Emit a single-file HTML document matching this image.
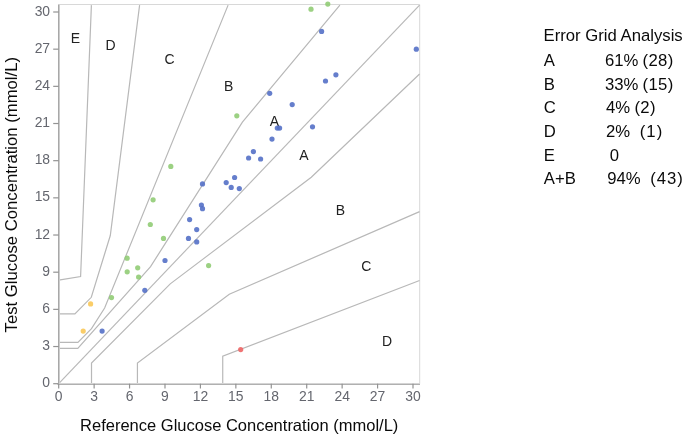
<!DOCTYPE html>
<html><head><meta charset="utf-8"><style>
html,body{margin:0;padding:0;background:#fff;}
body{width:685px;height:436px;overflow:hidden;position:relative;}
svg{display:block;position:absolute;left:0;top:0;}
.ch{will-change:transform;}
text{font-family:"Liberation Sans",sans-serif;}
.tk{font-size:13.9px;fill:#64666e;}
.zl{font-size:14px;fill:#222;}
.at{font-size:16.5px;fill:#0a0a0a;}
.lg{font-size:16.7px;fill:#0a0a0a;}
</style></head><body>
<svg class="ch" width="685" height="436" viewBox="0 0 685 436">
<path d="M58.70,4.5 L419.7,4.5 L419.7,383.70" fill="none" stroke="#d8d8d8" stroke-width="1"/>
<path d="M58.70,280.20 L80.60,276.60 L91.40,5.12" fill="none" stroke="#b8b8b8" stroke-width="1.2"/>
<path d="M58.70,313.80 L74.90,313.80 L91.30,297.30 L110.30,235.50 L139.60,5.12" fill="none" stroke="#b8b8b8" stroke-width="1.2"/>
<path d="M58.70,342.30 L77.90,342.30 L91.51,328.63 L104.63,307.98 L228.10,5.12" fill="none" stroke="#b8b8b8" stroke-width="1.2"/>
<path d="M58.70,348.40 L77.80,348.40 L150.56,266.68 L242.41,122.13 L339.90,5.12" fill="none" stroke="#b8b8b8" stroke-width="1.2"/>
<path d="M58.70,383.70 L419.56,5.12" fill="none" stroke="#b8b8b8" stroke-width="1.2"/>
<path d="M91.51,383.70 L91.51,363.05 L170.24,283.89 L311.30,177.20 L419.56,73.95" fill="none" stroke="#b8b8b8" stroke-width="1.2"/>
<path d="M137.43,383.70 L137.43,363.05 L229.29,294.22 L419.56,211.62" fill="none" stroke="#b8b8b8" stroke-width="1.2"/>
<path d="M222.73,383.70 L222.73,356.17 L419.56,280.45" fill="none" stroke="#b8b8b8" stroke-width="1.2"/>
<rect x="58" y="4.5" width="1" height="380.5" fill="#a8a8a8"/>
<rect x="59" y="4.5" width="1" height="379" fill="#cccccc"/>
<rect x="57.5" y="383" width="362.5" height="1" fill="#d4d4d4"/>
<rect x="57.5" y="384" width="362.5" height="1" fill="#b0b0b0"/>
<line x1="53.20" y1="383.70" x2="58.70" y2="383.70" stroke="#939393" stroke-width="1.2"/>
<line x1="58.70" y1="383.70" x2="58.70" y2="388.50" stroke="#939393" stroke-width="1.2"/>
<line x1="53.20" y1="346.53" x2="58.70" y2="346.53" stroke="#939393" stroke-width="1.2"/>
<line x1="94.13" y1="383.70" x2="94.13" y2="388.50" stroke="#939393" stroke-width="1.2"/>
<line x1="53.20" y1="309.36" x2="58.70" y2="309.36" stroke="#939393" stroke-width="1.2"/>
<line x1="129.56" y1="383.70" x2="129.56" y2="388.50" stroke="#939393" stroke-width="1.2"/>
<line x1="53.20" y1="272.19" x2="58.70" y2="272.19" stroke="#939393" stroke-width="1.2"/>
<line x1="164.99" y1="383.70" x2="164.99" y2="388.50" stroke="#939393" stroke-width="1.2"/>
<line x1="53.20" y1="235.02" x2="58.70" y2="235.02" stroke="#939393" stroke-width="1.2"/>
<line x1="200.42" y1="383.70" x2="200.42" y2="388.50" stroke="#939393" stroke-width="1.2"/>
<line x1="53.20" y1="197.85" x2="58.70" y2="197.85" stroke="#939393" stroke-width="1.2"/>
<line x1="235.85" y1="383.70" x2="235.85" y2="388.50" stroke="#939393" stroke-width="1.2"/>
<line x1="53.20" y1="160.68" x2="58.70" y2="160.68" stroke="#939393" stroke-width="1.2"/>
<line x1="271.28" y1="383.70" x2="271.28" y2="388.50" stroke="#939393" stroke-width="1.2"/>
<line x1="53.20" y1="123.51" x2="58.70" y2="123.51" stroke="#939393" stroke-width="1.2"/>
<line x1="306.71" y1="383.70" x2="306.71" y2="388.50" stroke="#939393" stroke-width="1.2"/>
<line x1="53.20" y1="86.34" x2="58.70" y2="86.34" stroke="#939393" stroke-width="1.2"/>
<line x1="342.14" y1="383.70" x2="342.14" y2="388.50" stroke="#939393" stroke-width="1.2"/>
<line x1="53.20" y1="49.17" x2="58.70" y2="49.17" stroke="#939393" stroke-width="1.2"/>
<line x1="377.57" y1="383.70" x2="377.57" y2="388.50" stroke="#939393" stroke-width="1.2"/>
<line x1="53.20" y1="12.00" x2="58.70" y2="12.00" stroke="#939393" stroke-width="1.2"/>
<line x1="413.00" y1="383.70" x2="413.00" y2="388.50" stroke="#939393" stroke-width="1.2"/>
<text x="50.10" y="387.20" text-anchor="end" class="tk">0</text>
<text x="58.70" y="401.00" text-anchor="middle" class="tk">0</text>
<text x="50.10" y="350.03" text-anchor="end" class="tk">3</text>
<text x="94.13" y="401.00" text-anchor="middle" class="tk">3</text>
<text x="50.10" y="312.86" text-anchor="end" class="tk">6</text>
<text x="129.56" y="401.00" text-anchor="middle" class="tk">6</text>
<text x="50.10" y="275.69" text-anchor="end" class="tk">9</text>
<text x="164.99" y="401.00" text-anchor="middle" class="tk">9</text>
<text x="50.10" y="238.52" text-anchor="end" class="tk">12</text>
<text x="200.42" y="401.00" text-anchor="middle" class="tk">12</text>
<text x="50.10" y="201.35" text-anchor="end" class="tk">15</text>
<text x="235.85" y="401.00" text-anchor="middle" class="tk">15</text>
<text x="50.10" y="164.18" text-anchor="end" class="tk">18</text>
<text x="271.28" y="401.00" text-anchor="middle" class="tk">18</text>
<text x="50.10" y="127.01" text-anchor="end" class="tk">21</text>
<text x="306.71" y="401.00" text-anchor="middle" class="tk">21</text>
<text x="50.10" y="89.84" text-anchor="end" class="tk">24</text>
<text x="342.14" y="401.00" text-anchor="middle" class="tk">24</text>
<text x="50.10" y="52.67" text-anchor="end" class="tk">27</text>
<text x="377.57" y="401.00" text-anchor="middle" class="tk">27</text>
<text x="50.10" y="15.50" text-anchor="end" class="tk">30</text>
<text x="413.00" y="401.00" text-anchor="middle" class="tk">30</text>
<text x="75.3" y="43.1" text-anchor="middle" class="zl">E</text>
<text x="110.5" y="49.6" text-anchor="middle" class="zl">D</text>
<text x="169.5" y="64.0" text-anchor="middle" class="zl">C</text>
<text x="228.7" y="91" text-anchor="middle" class="zl">B</text>
<text x="274.3" y="125.6" text-anchor="middle" class="zl">A</text>
<text x="303.9" y="160" text-anchor="middle" class="zl">A</text>
<text x="340.5" y="215.3" text-anchor="middle" class="zl">B</text>
<text x="366.3" y="270.5" text-anchor="middle" class="zl">C</text>
<text x="387" y="346.4" text-anchor="middle" class="zl">D</text>
<circle cx="102.1" cy="331.1" r="2.6" fill="#5470c6" fill-opacity="0.9"/>
<circle cx="144.8" cy="290.3" r="2.6" fill="#5470c6" fill-opacity="0.9"/>
<circle cx="165.0" cy="260.5" r="2.6" fill="#5470c6" fill-opacity="0.9"/>
<circle cx="188.5" cy="238.4" r="2.6" fill="#5470c6" fill-opacity="0.9"/>
<circle cx="196.7" cy="241.9" r="2.6" fill="#5470c6" fill-opacity="0.9"/>
<circle cx="189.6" cy="219.6" r="2.6" fill="#5470c6" fill-opacity="0.9"/>
<circle cx="196.7" cy="229.6" r="2.6" fill="#5470c6" fill-opacity="0.9"/>
<circle cx="201.4" cy="205" r="2.6" fill="#5470c6" fill-opacity="0.9"/>
<circle cx="202.5" cy="208.7" r="2.6" fill="#5470c6" fill-opacity="0.9"/>
<circle cx="202.5" cy="183.9" r="2.6" fill="#5470c6" fill-opacity="0.9"/>
<circle cx="226.2" cy="182.6" r="2.6" fill="#5470c6" fill-opacity="0.9"/>
<circle cx="234.6" cy="177.5" r="2.6" fill="#5470c6" fill-opacity="0.9"/>
<circle cx="231.2" cy="187.4" r="2.6" fill="#5470c6" fill-opacity="0.9"/>
<circle cx="239.3" cy="188.6" r="2.6" fill="#5470c6" fill-opacity="0.9"/>
<circle cx="253.4" cy="151.6" r="2.6" fill="#5470c6" fill-opacity="0.9"/>
<circle cx="248.6" cy="158" r="2.6" fill="#5470c6" fill-opacity="0.9"/>
<circle cx="260.6" cy="159" r="2.6" fill="#5470c6" fill-opacity="0.9"/>
<circle cx="272.0" cy="139.1" r="2.6" fill="#5470c6" fill-opacity="0.9"/>
<circle cx="277.3" cy="128.1" r="2.6" fill="#5470c6" fill-opacity="0.9"/>
<circle cx="279.6" cy="128.1" r="2.6" fill="#5470c6" fill-opacity="0.9"/>
<circle cx="269.7" cy="93.3" r="2.6" fill="#5470c6" fill-opacity="0.9"/>
<circle cx="292.2" cy="104.6" r="2.6" fill="#5470c6" fill-opacity="0.9"/>
<circle cx="312.5" cy="126.8" r="2.6" fill="#5470c6" fill-opacity="0.9"/>
<circle cx="325.5" cy="81" r="2.6" fill="#5470c6" fill-opacity="0.9"/>
<circle cx="335.9" cy="74.8" r="2.6" fill="#5470c6" fill-opacity="0.9"/>
<circle cx="321.6" cy="31.4" r="2.6" fill="#5470c6" fill-opacity="0.9"/>
<circle cx="416.3" cy="49.2" r="2.6" fill="#5470c6" fill-opacity="0.9"/>
<circle cx="311.0" cy="9.2" r="2.6" fill="#91cc75" fill-opacity="0.9"/>
<circle cx="327.8" cy="4.1" r="2.6" fill="#91cc75" fill-opacity="0.9"/>
<circle cx="236.8" cy="115.8" r="2.6" fill="#91cc75" fill-opacity="0.9"/>
<circle cx="170.8" cy="166.4" r="2.6" fill="#91cc75" fill-opacity="0.9"/>
<circle cx="153.1" cy="199.8" r="2.6" fill="#91cc75" fill-opacity="0.9"/>
<circle cx="150.3" cy="224.5" r="2.6" fill="#91cc75" fill-opacity="0.9"/>
<circle cx="163.5" cy="238.4" r="2.6" fill="#91cc75" fill-opacity="0.9"/>
<circle cx="127.1" cy="258.2" r="2.6" fill="#91cc75" fill-opacity="0.9"/>
<circle cx="137.7" cy="267.8" r="2.6" fill="#91cc75" fill-opacity="0.9"/>
<circle cx="127.2" cy="271.8" r="2.6" fill="#91cc75" fill-opacity="0.9"/>
<circle cx="138.6" cy="277" r="2.6" fill="#91cc75" fill-opacity="0.9"/>
<circle cx="111.5" cy="297.6" r="2.6" fill="#91cc75" fill-opacity="0.9"/>
<circle cx="208.6" cy="265.6" r="2.6" fill="#91cc75" fill-opacity="0.9"/>
<circle cx="90.6" cy="303.9" r="2.6" fill="#fac858" fill-opacity="0.9"/>
<circle cx="83.2" cy="331.1" r="2.6" fill="#fac858" fill-opacity="0.9"/>
<circle cx="240.7" cy="349.6" r="2.6" fill="#ee6666" fill-opacity="0.9"/>
</svg>
<svg class="ov" width="685" height="436" viewBox="0 0 685 436">
<text x="80.1" y="431" class="at">Reference Glucose Concentration (mmol/L)</text>
<text transform="translate(17.0,332.4) rotate(-90)" x="0" y="0" class="at" style="font-size:16.7px">Test Glucose Concentration (mmol/L)</text>
<text x="543.6" y="40.9" class="lg">Error Grid Analysis</text>
<text x="543.8" y="65.8" class="lg">A</text>
<text x="605.0" y="65.8" class="lg">61%</text>
<text x="642.5" y="65.8" class="lg" style="letter-spacing:0.35px">(28)</text>
<text x="543.8" y="89.5" class="lg">B</text>
<text x="605.0" y="89.5" class="lg">33%</text>
<text x="642.5" y="89.5" class="lg" style="letter-spacing:0.35px">(15)</text>
<text x="543.8" y="113.2" class="lg">C</text>
<text x="606.1" y="113.2" class="lg">4%</text>
<text x="634.4" y="113.2" class="lg" style="letter-spacing:0.4px">(2)</text>
<text x="543.8" y="137.0" class="lg">D</text>
<text x="606.1" y="137.0" class="lg">2%</text>
<text x="639.8" y="137.0" class="lg" style="letter-spacing:1.0px">(1)</text>
<text x="543.8" y="160.7" class="lg">E</text>
<text x="609.8" y="160.7" class="lg">0</text>
<text x="543.8" y="184.4" class="lg">A+B</text>
<text x="607.3" y="184.4" class="lg">94%</text>
<text x="650.2" y="184.4" class="lg" style="letter-spacing:1.0px">(43)</text>
</svg>
</body></html>
